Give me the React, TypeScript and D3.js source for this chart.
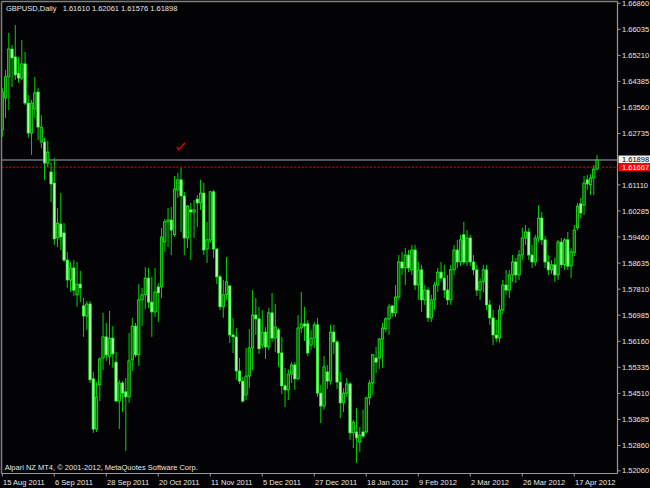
import React from 'react';
import * as d3 from 'd3';

const openP = [
  1.6285, 1.6386, 1.6453, 1.6541, 1.6516, 1.6465, 1.6449, 1.6494, 1.6370, 1.6275,
  1.6351, 1.6405, 1.6247, 1.6247, 1.6180, 1.6152, 1.6117, 1.5943, 1.5987, 1.5959,
  1.5873, 1.5810, 1.5848, 1.5763, 1.5797, 1.5728, 1.5696, 1.5734, 1.5497, 1.5338,
  1.5478, 1.5563, 1.5630, 1.5569, 1.5626, 1.5550, 1.5427, 1.5484, 1.5456, 1.5440,
  1.5557, 1.5664, 1.5573, 1.5747, 1.5763, 1.5816, 1.5740, 1.5709, 1.5788, 1.5788,
  1.5930, 1.5994, 1.6000, 1.5953, 1.6095, 1.6127, 1.6076, 1.5943, 1.6032, 1.6025,
  1.6066, 1.6054, 1.6085, 1.5908, 1.5937, 1.6089, 1.5908, 1.5820, 1.5725, 1.5763,
  1.5791, 1.5636, 1.5630, 1.5522, 1.5490, 1.5446, 1.5506, 1.5595, 1.5699, 1.5687,
  1.5604, 1.5645, 1.5598, 1.5706, 1.5626, 1.5652, 1.5579, 1.5475, 1.5462, 1.5512,
  1.5541, 1.5497, 1.5658, 1.5671, 1.5671, 1.5604, 1.5626, 1.5668, 1.5452, 1.5411,
  1.5519, 1.5490, 1.5645, 1.5614, 1.5487, 1.5421, 1.5452, 1.5481, 1.5326, 1.5329,
  1.5297, 1.5329, 1.5329, 1.5437, 1.5484, 1.5563, 1.5563, 1.5623, 1.5655, 1.5687,
  1.5728, 1.5706, 1.5756, 1.5867, 1.5848, 1.5889, 1.5842, 1.5905, 1.5794, 1.5842,
  1.5747, 1.5778, 1.5690, 1.5747, 1.5794, 1.5835, 1.5816, 1.5778, 1.5747, 1.5842,
  1.5905, 1.5867, 1.5953, 1.5867, 1.5943, 1.5867, 1.5842, 1.5778, 1.5804, 1.5842,
  1.5731, 1.5690, 1.5636, 1.5626, 1.5715, 1.5794, 1.5778, 1.5826, 1.5867, 1.5826,
  1.5889, 1.5943, 1.5962, 1.5889, 1.5867, 1.5943, 1.6006, 1.5937, 1.5867, 1.5842,
  1.5858, 1.5826, 1.5930, 1.5858, 1.5937, 1.5854, 1.5896, 1.5975, 1.6051, 1.6047,
  1.6127, 1.6111, 1.6133, 1.6161,
];

const highP = [
  1.6418, 1.6475, 1.6592, 1.6554, 1.6617, 1.6516, 1.6570, 1.6532, 1.6396, 1.6380,
  1.6453, 1.6418, 1.6332, 1.6260, 1.6250, 1.6183, 1.6196, 1.6038, 1.6085, 1.5990,
  1.5899, 1.5867, 1.5873, 1.5867, 1.5839, 1.5753, 1.5743, 1.5743, 1.5519, 1.5487,
  1.5566, 1.5706, 1.5674, 1.5712, 1.5664, 1.5582, 1.5494, 1.5490, 1.5500, 1.5642,
  1.5690, 1.5674, 1.5797, 1.5785, 1.5851, 1.5848, 1.5820, 1.5848, 1.5800, 1.5975,
  1.6003, 1.6038, 1.6041, 1.6139, 1.6149, 1.6165, 1.6089, 1.6047, 1.6054, 1.6063,
  1.6079, 1.6127, 1.6117, 1.5994, 1.6092, 1.6095, 1.5911, 1.5826, 1.5810, 1.5883,
  1.5794, 1.5690, 1.5658, 1.5563, 1.5503, 1.5595, 1.5655, 1.5778, 1.5753, 1.5725,
  1.5715, 1.5661, 1.5721, 1.5769, 1.5734, 1.5658, 1.5630, 1.5532, 1.5528, 1.5550,
  1.5550, 1.5699, 1.5772, 1.5725, 1.5683, 1.5652, 1.5677, 1.5690, 1.5478, 1.5569,
  1.5541, 1.5668, 1.5668, 1.5620, 1.5519, 1.5468, 1.5500, 1.5487, 1.5367, 1.5405,
  1.5345, 1.5399, 1.5440, 1.5494, 1.5576, 1.5598, 1.5626, 1.5674, 1.5693, 1.5734,
  1.5731, 1.5794, 1.5889, 1.5899, 1.5911, 1.5905, 1.5921, 1.5921, 1.5867, 1.5858,
  1.5794, 1.5788, 1.5763, 1.5804, 1.5848, 1.5867, 1.5858, 1.5826, 1.5858, 1.5921,
  1.5937, 1.5953, 1.5994, 1.5968, 1.5953, 1.5889, 1.5858, 1.5816, 1.5858, 1.5858,
  1.5747, 1.5715, 1.5683, 1.5731, 1.5810, 1.5842, 1.5842, 1.5889, 1.5880, 1.5905,
  1.5975, 1.5984, 1.5975, 1.5921, 1.5953, 1.6047, 1.6025, 1.5949, 1.5889, 1.5873,
  1.5880, 1.5937, 1.5943, 1.5943, 1.5962, 1.5911, 1.5984, 1.6054, 1.6070, 1.6139,
  1.6142, 1.6145, 1.6174, 1.62061,
];

const lowP = [
  1.6263, 1.6323, 1.6348, 1.6421, 1.6443, 1.6434, 1.6443, 1.6364, 1.6260, 1.6206,
  1.6323, 1.6253, 1.6228, 1.6127, 1.6168, 1.6057, 1.5921, 1.5914, 1.5905, 1.5867,
  1.5785, 1.5772, 1.5759, 1.5725, 1.5740, 1.5630, 1.5652, 1.5484, 1.5326, 1.5329,
  1.5427, 1.5525, 1.5554, 1.5541, 1.5532, 1.5424, 1.5338, 1.5392, 1.5269, 1.5421,
  1.5522, 1.5566, 1.5538, 1.5664, 1.5718, 1.5721, 1.5630, 1.5693, 1.5677, 1.5753,
  1.5899, 1.5914, 1.5889, 1.5946, 1.6070, 1.5962, 1.5889, 1.5911, 1.5873, 1.5943,
  1.5978, 1.6032, 1.5889, 1.5864, 1.5927, 1.5880, 1.5797, 1.5715, 1.5690, 1.5747,
  1.5611, 1.5579, 1.5494, 1.5481, 1.5421, 1.5430, 1.5468, 1.5525, 1.5636, 1.5576,
  1.5595, 1.5560, 1.5588, 1.5614, 1.5582, 1.5535, 1.5449, 1.5408, 1.5430, 1.5484,
  1.5462, 1.5494, 1.5642, 1.5617, 1.5569, 1.5588, 1.5595, 1.5440, 1.5357, 1.5399,
  1.5465, 1.5478, 1.5576, 1.5465, 1.5373, 1.5392, 1.5440, 1.5304, 1.5278, 1.5231,
  1.5266, 1.5310, 1.5326, 1.5414, 1.5446, 1.5516, 1.5528, 1.5532, 1.5645, 1.5636,
  1.5693, 1.5693, 1.5747, 1.5826, 1.5794, 1.5835, 1.5826, 1.5778, 1.5747, 1.5709,
  1.5731, 1.5677, 1.5677, 1.5715, 1.5772, 1.5804, 1.5753, 1.5731, 1.5731, 1.5826,
  1.5848, 1.5854, 1.5858, 1.5854, 1.5854, 1.5826, 1.5759, 1.5747, 1.5772, 1.5715,
  1.5668, 1.5604, 1.5614, 1.5611, 1.5702, 1.5763, 1.5753, 1.5804, 1.5800, 1.5810,
  1.5873, 1.5921, 1.5873, 1.5848, 1.5854, 1.5930, 1.5921, 1.5848, 1.5826, 1.5829,
  1.5804, 1.5810, 1.5848, 1.5842, 1.5842, 1.5816, 1.5886, 1.5968, 1.6006, 1.6016,
  1.6095, 1.6079, 1.6079, 1.61576,
];

const closeP = [
  1.6405, 1.6453, 1.6541, 1.6513, 1.6459, 1.6449, 1.6494, 1.6370, 1.6275, 1.6370,
  1.6402, 1.6294, 1.6294, 1.6180, 1.6215, 1.6114, 1.5940, 1.5990, 1.5946, 1.5873,
  1.5810, 1.5848, 1.5778, 1.5797, 1.5785, 1.5696, 1.5734, 1.5494, 1.5338, 1.5440,
  1.5560, 1.5630, 1.5573, 1.5626, 1.5576, 1.5427, 1.5484, 1.5452, 1.5440, 1.5554,
  1.5664, 1.5573, 1.5747, 1.5763, 1.5816, 1.5740, 1.5709, 1.5772, 1.5769, 1.5946,
  1.5994, 1.6000, 1.5968, 1.6098, 1.6127, 1.6076, 1.5943, 1.6044, 1.6025, 1.6032,
  1.6054, 1.6085, 1.5905, 1.5937, 1.6089, 1.5908, 1.5820, 1.5725, 1.5763, 1.5804,
  1.5636, 1.5630, 1.5522, 1.5490, 1.5427, 1.5506, 1.5595, 1.5699, 1.5687, 1.5592,
  1.5645, 1.5598, 1.5706, 1.5626, 1.5661, 1.5579, 1.5475, 1.5462, 1.5512, 1.5541,
  1.5497, 1.5658, 1.5671, 1.5664, 1.5579, 1.5626, 1.5668, 1.5452, 1.5411, 1.5535,
  1.5490, 1.5645, 1.5614, 1.5487, 1.5421, 1.5452, 1.5481, 1.5326, 1.5360, 1.5310,
  1.5319, 1.5316, 1.5437, 1.5484, 1.5573, 1.5550, 1.5623, 1.5658, 1.5687, 1.5725,
  1.5706, 1.5756, 1.5867, 1.5848, 1.5889, 1.5848, 1.5905, 1.5794, 1.5842, 1.5747,
  1.5778, 1.5690, 1.5747, 1.5794, 1.5835, 1.5816, 1.5778, 1.5747, 1.5842, 1.5905,
  1.5867, 1.5937, 1.5867, 1.5943, 1.5867, 1.5842, 1.5778, 1.5804, 1.5842, 1.5731,
  1.5690, 1.5636, 1.5626, 1.5715, 1.5794, 1.5778, 1.5826, 1.5867, 1.5826, 1.5889,
  1.5943, 1.5962, 1.5889, 1.5867, 1.5943, 1.6006, 1.5937, 1.5867, 1.5842, 1.5858,
  1.5826, 1.5930, 1.5858, 1.5937, 1.5854, 1.5899, 1.5968, 1.6044, 1.6022, 1.6117,
  1.6114, 1.6133, 1.6161, 1.61898,
];

const dateLabels = [
  '15 Aug 2011', '6 Sep 2011', '28 Sep 2011', '20 Oct 2011', '11 Nov 2011', '5 Dec 2011',
  '27 Dec 2011', '18 Jan 2012', '9 Feb 2012', '2 Mar 2012', '26 Mar 2012', '17 Apr 2012',
];
const dateLabelBars = [0, 16, 32, 48, 64, 80, 96, 112, 128, 144, 160, 176];

const priceTicks = [
  1.6686, 1.66035, 1.6521, 1.64385, 1.6356, 1.62735, 1.6111, 1.60285, 1.5946,
  1.58635, 1.5781, 1.56985, 1.5616, 1.55335, 1.5451, 1.53685, 1.5286, 1.5206,
];

const titleSymbol = 'GBPUSD,Daily';
const titleOHLC = '1.61610 1.62061 1.61576 1.61898';
const copyright = 'Alpari NZ MT4, \u00A9 2001-2012, MetaQuotes Software Corp.';
const bidPrice = 1.61898;
const levelPrice = 1.61667;
const checkBar = 55;
const checkPrice = 1.6232;

const FONT = "'Liberation Sans', Arial, sans-serif";

export default function App() {
  const N = closeP.length;
  const left = 1.5, top = 1.5, right = 617.5, bottom = 473.5;
  const step = 3.25;
  const x = d3.scaleBand<number>().domain(d3.range(N)).range([0.675, 0.675 + N * step]).padding(0);
  const y = d3.scaleLinear().domain([1.5206, 1.6686]).range([470.8, 3.24]);
  const cx = (i: number) => (x(i) as number) + x.bandwidth() / 2;
  const bw = 2.4;
  const axisColor = '#9a9a9a';
  const textColor = '#e6e6e6';

  const candles = d3.range(N).map((i) => {
    const o = openP[i], c = closeP[i], h = highP[i], l = lowP[i];
    const bull = c >= o;
    const yt = y(Math.max(o, c));
    const yb = y(Math.min(o, c));
    const xc = cx(i);
    return (
      <g key={i}>
        <line x1={xc} x2={xc} y1={y(h)} y2={y(l)} stroke="#00d400" strokeWidth={1} />
        <rect
          x={xc - bw / 2}
          y={yt}
          width={bw}
          height={Math.max(yb - yt, 0.9)}
          fill={bull ? '#006a00' : '#a8ffa8'}
          stroke="#22ff22"
          strokeWidth={0.7}
        />
      </g>
    );
  });

  const cxk = cx(checkBar);
  const cyk = y(checkPrice);

  return (
    <svg
      width={650}
      height={488}
      style={{ position: 'fixed', left: 0, top: 0, display: 'block', background: '#000' }}
      fontFamily={FONT}
    >
      <defs>
        <clipPath id="plot">
          <rect x={left + 0.5} y={top + 0.5} width={right - left - 1} height={bottom - top - 1} />
        </clipPath>
      </defs>
      <rect x={0} y={0} width={650} height={488} fill="#030305" />

      <line x1={left} x2={right} y1={y(bidPrice)} y2={y(bidPrice)} stroke="#a4aab4" strokeWidth={1} />
      <line
        x1={left}
        x2={right}
        y1={y(levelPrice)}
        y2={y(levelPrice)}
        stroke="#9a0000"
        strokeWidth={1.5}
        strokeDasharray="2.2 1.6"
      />

      <g clipPath="url(#plot)">{candles}</g>

      <path
        d={`M${cxk - 4},${cyk} L${cxk - 2.5},${cyk + 3} L${cxk + 4},${cyk - 4}`}
        fill="none"
        stroke="#e00000"
        strokeWidth={1.5}
      />

      <line x1={left} x2={left} y1={top} y2={bottom} stroke="#808080" strokeWidth={1.5} />
      <line x1={left} x2={right} y1={top} y2={top} stroke="#808080" strokeWidth={1.5} />
      <line x1={right} x2={right} y1={top} y2={bottom} stroke={axisColor} strokeWidth={1.2} />
      <line x1={left} x2={right} y1={bottom} y2={bottom} stroke={axisColor} strokeWidth={1.2} />

      {priceTicks.map((p) => (
        <g key={p}>
          <line x1={right} x2={right + 3} y1={y(p)} y2={y(p)} stroke={axisColor} strokeWidth={1} />
          <text x={622} y={y(p)} dy="0.35em" fontSize={7.5} fill={textColor}>
            {p.toFixed(5)}
          </text>
        </g>
      ))}

      <rect x={618.5} y={y(bidPrice) - 4.5} width={32} height={7.8} fill="#f2f2f2" />
      <text x={622} y={y(bidPrice) - 0.6} dy="0.35em" fontSize={7.5} fill="#000">
        {bidPrice.toFixed(5)}
      </text>
      <rect x={618.5} y={y(levelPrice) - 4} width={32} height={7.8} fill="#ff0000" />
      <text x={622} y={y(levelPrice)} dy="0.35em" fontSize={7.5} fill="#ffffff">
        {levelPrice.toFixed(5)}
      </text>

      {dateLabels.map((d, k) => {
        const xt = cx(dateLabelBars[k]);
        return (
          <g key={d}>
            <line x1={xt} x2={xt} y1={bottom} y2={bottom + 3} stroke={axisColor} strokeWidth={1} />
            <text x={xt + 0.8} y={484.5} fontSize={7.5} fill={textColor}>
              {d}
            </text>
          </g>
        );
      })}

      <text x={6} y={10.6} fontSize={7.5} fill={textColor}>
        {titleSymbol}
      </text>
      <text x={62.7} y={10.6} fontSize={7.5} fill={textColor}>
        {titleOHLC}
      </text>
      <text x={4.7} y={469.5} fontSize={7.5} fill={textColor}>
        {copyright}
      </text>
    </svg>
  );
}
